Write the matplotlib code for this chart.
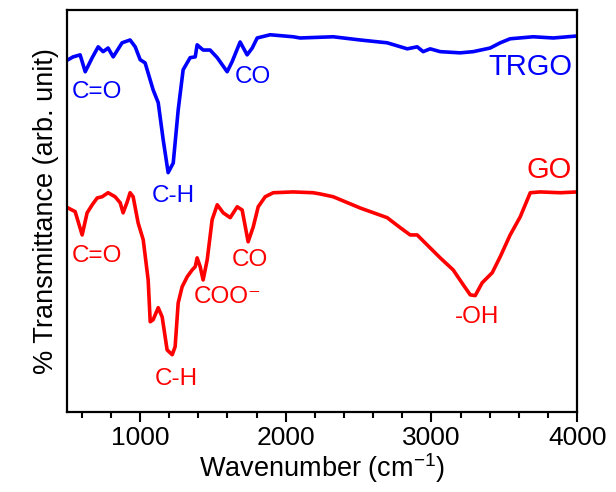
import matplotlib.pyplot as plt
from matplotlib.ticker import MultipleLocator

plt.rcParams['font.family'] = ['Liberation Sans', 'DejaVu Sans']
plt.rcParams['mathtext.fontset'] = 'custom'
plt.rcParams['mathtext.rm'] = 'Liberation Sans'
plt.rcParams['mathtext.default'] = 'regular'

# TRGO spectrum (blue), wavenumber in cm-1, transmittance in arb. units
trgo_wn = [507, 541, 589, 624, 672, 713, 747, 781, 816, 877, 932, 967, 1001,
           1035, 1090, 1125, 1159, 1193, 1228, 1262, 1296, 1344, 1379, 1392,
           1433, 1481, 1530, 1598, 1632, 1687, 1735, 1770, 1804, 1893, 2051,
           2099, 2326, 2511, 2696, 2834, 2902, 2943, 2991, 3060, 3197, 3287,
           3403, 3472, 3540, 3698, 3836, 4000]
trgo_t = [87.6, 88.3, 88.8, 84.6, 88.1, 90.8, 89.6, 90.5, 88.3, 91.8, 92.5,
          90.8, 87.6, 86.8, 80.1, 76.9, 67.7, 59.5, 61.9, 75.1, 85.1, 88.1,
          88.3, 91.3, 90.0, 90.0, 88.1, 84.6, 87.1, 92.0, 88.8, 90.5, 93.0,
          93.8, 93.3, 93.0, 93.3, 92.5, 91.8, 90.3, 90.8, 89.6, 90.3, 89.6,
          89.3, 89.6, 90.5, 91.8, 92.8, 93.3, 93.0, 93.5]

# GO spectrum (red)
go_wn = [507, 555, 603, 637, 672, 706, 740, 781, 829, 864, 884, 912, 932, 953,
         987, 1022, 1056, 1070, 1090, 1125, 1152, 1186, 1221, 1241, 1262,
         1289, 1324, 1358, 1379, 1392, 1413, 1433, 1461, 1495, 1530, 1571,
         1619, 1667, 1701, 1742, 1777, 1811, 1859, 1914, 2051, 2188, 2236,
         2326, 2511, 2696, 2786, 2854, 2902, 2971, 3060, 3149, 3218, 3266,
         3300, 3348, 3417, 3472, 3540, 3609, 3678, 3746, 3884, 4000]
go_t = [50.7, 49.8, 44.0, 49.5, 51.5, 53.2, 53.5, 54.5, 53.5, 52.0, 49.5,
        52.2, 54.5, 53.5, 47.0, 42.8, 32.8, 22.4, 22.9, 25.9, 23.6, 15.4,
        14.2, 16.2, 27.1, 31.1, 33.6, 35.3, 36.1, 38.3, 36.1, 32.8, 37.8,
        47.8, 51.5, 49.5, 48.3, 51.0, 50.2, 42.3, 46.0, 51.0, 53.5, 54.5,
        54.7, 54.5, 54.2, 53.5, 50.7, 48.3, 45.8, 44.0, 44.0, 41.5, 38.3,
        35.3, 31.6, 29.1, 28.9, 32.1, 34.6, 38.6, 44.0, 48.5, 54.5, 54.7,
        54.5, 54.7]

# peak labels: (text, wavenumber, transmittance)
trgo_labels = [('C=O', 706, 79.6), ('C-H', 1228, 53.7), ('CO', 1777, 83.3)]
go_labels = [('C=O', 706, 38.8), ('C-H', 1248, 8.2), ('COO\u207b', 1598, 28.6),
             ('CO', 1756, 37.8), ('-OH', 3314, 23.6)]

fig = plt.figure(figsize=(6.16, 4.92), dpi=100)
ax = fig.add_axes([0.109, 0.163, 0.828, 0.817])

ax.plot(trgo_wn, trgo_t, color='#0000ff', lw=2.6, solid_joinstyle='round')
ax.plot(go_wn, go_t, color='#ff0000', lw=2.6, solid_joinstyle='round')

for txt, x, y in trgo_labels:
    ax.text(x, y, txt, color='#0000ff', fontsize=17.5, ha='center', va='center')
for txt, x, y in go_labels:
    ax.text(x, y, txt, color='#ff0000', fontsize=17.5, ha='center', va='center')

ax.text(3966, 85.8, 'TRGO', color='#0000ff', fontsize=21, ha='right', va='center')
ax.text(3808, 60.2, 'GO', color='#ff0000', fontsize=21, ha='center', va='center')

ax.set_xlim(500, 4000)
ax.set_ylim(0, 100)
ax.xaxis.set_major_locator(MultipleLocator(1000))
ax.xaxis.set_minor_locator(MultipleLocator(200))
ax.set_yticks([])
ax.tick_params(axis='x', which='major', direction='out', length=7, width=1.5,
               labelsize=19, pad=3)
ax.tick_params(axis='x', which='minor', direction='out', length=4, width=1.5)
for s in ax.spines.values():
    s.set_linewidth(1.6)

ax.set_xlabel('Wavenumber (cm$^{-1}$)', fontsize=19.5, labelpad=1)
ax.set_ylabel('% Transmittance (arb. unit)', fontsize=19.5, labelpad=6)

fig.savefig('out.png', dpi=100)
